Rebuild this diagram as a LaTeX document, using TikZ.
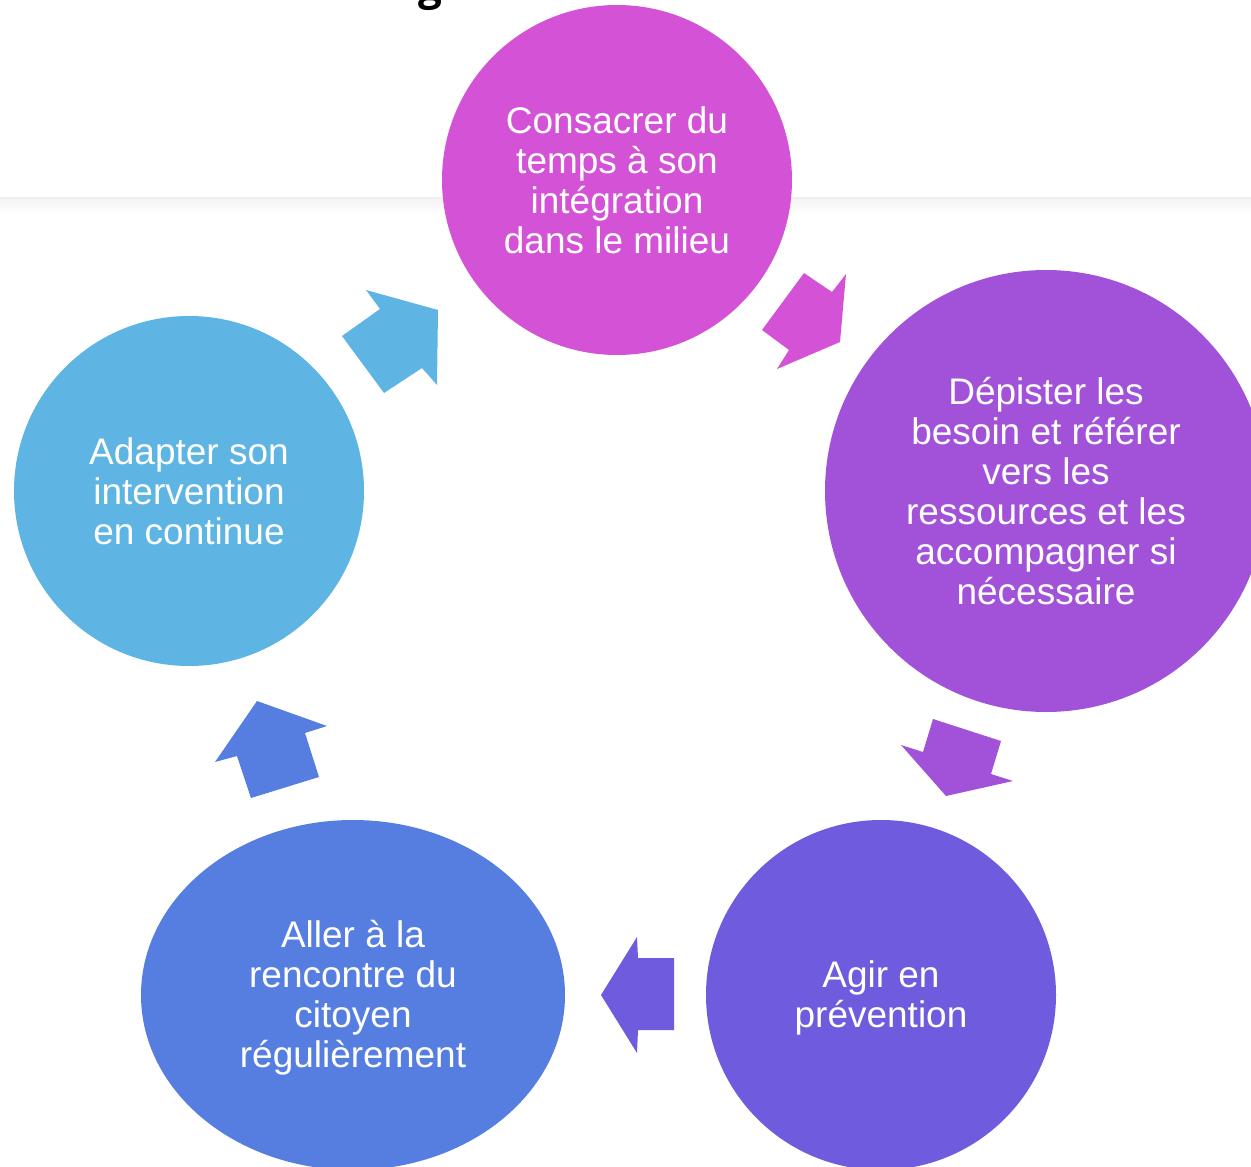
\documentclass[tikz,border=0pt]{standalone}
\usepackage{fontspec}
\setmainfont{Liberation Sans}
\newfontfamily\titlefont{Open Sans}
\usetikzlibrary{shapes.geometric}
\definecolor{cMag}{RGB}{211,82,214}
\definecolor{cPur}{RGB}{161,82,217}
\definecolor{cInd}{RGB}{110,91,221}
\definecolor{cBlu}{RGB}{85,126,224}
\definecolor{cSky}{RGB}{94,180,226}
\tikzset{
  steptext/.style={inner sep=0pt, text=white, align=center,
    font=\fontsize{37}{40}\selectfont},
  stepcircle/.style={circle, steptext},
  stepellipse/.style={ellipse, steptext},
  blockarrow/.style={draw=none}
}
\begin{document}
\begin{tikzpicture}[x=1pt,y=-1pt]
\useasboundingbox (0,0) rectangle (1251,1167);
% cut-off title fragment
\node[anchor=base west, inner sep=0pt, font=\titlefont\bfseries\fontsize{42}{42}\selectfont] (title) at (418,0) {g};
% faint header band
\fill[top color=black!5, bottom color=white] (0,198) rectangle (1251,214);
\fill[black!6] (0,196.5) rectangle (1251,199);
% circles
\node[stepcircle, fill=cMag, minimum size=350pt] (c1) at (617,180)
  {Consacrer du\\temps à son\\intégration\\dans le milieu};
\node[stepcircle, fill=cPur, minimum size=442pt] (c2) at (1046,491)
  {Dépister les\\besoin et référer\\vers les\\ressources et les\\accompagner si\\nécessaire};
\node[stepcircle, fill=cInd, minimum size=350pt] (c3) at (881,995) {};
\node[steptext] (t3) at ([yshift=-3pt]c3.center) {Agir en\\prévention};
\node[stepellipse, fill=cBlu, minimum width=424pt, minimum height=350pt] (c4) at (353,995) {};
\node[steptext] (t4) at ([yshift=-3pt]c4.center) {Aller à la\\rencontre du\\citoyen\\régulièrement};
\node[stepcircle, fill=cSky, minimum size=350pt] (c5) at (189,491)
  {Adapter son\\intervention\\en continue};
% block arrows
\fill[blockarrow, cMag] (762,330) -- (804,273) -- (832,292) -- (846,274) -- (840,342) -- (777,369) -- (789,350) -- cycle;
\fill[blockarrow, cPur] (933,719) -- (1001,741) -- (991,774) -- (1013,781) -- (946,796) -- (901,745) -- (923,752) -- cycle;
\fill[blockarrow, cInd] (674,958) -- (638,958) -- (637,937) -- (601,995) -- (637,1053) -- (638,1030) -- (674,1030) -- cycle;
\fill[blockarrow, cBlu] (257,701) -- (327,726) -- (305,733) -- (319,777) -- (251,798) -- (237,756) -- (215,762) -- cycle;
\fill[blockarrow, cSky] (342,336) -- (380,309) -- (366,290) -- (438,310) -- (437,385) -- (422,368) -- (384,393) -- cycle;
\end{tikzpicture}
\end{document}
